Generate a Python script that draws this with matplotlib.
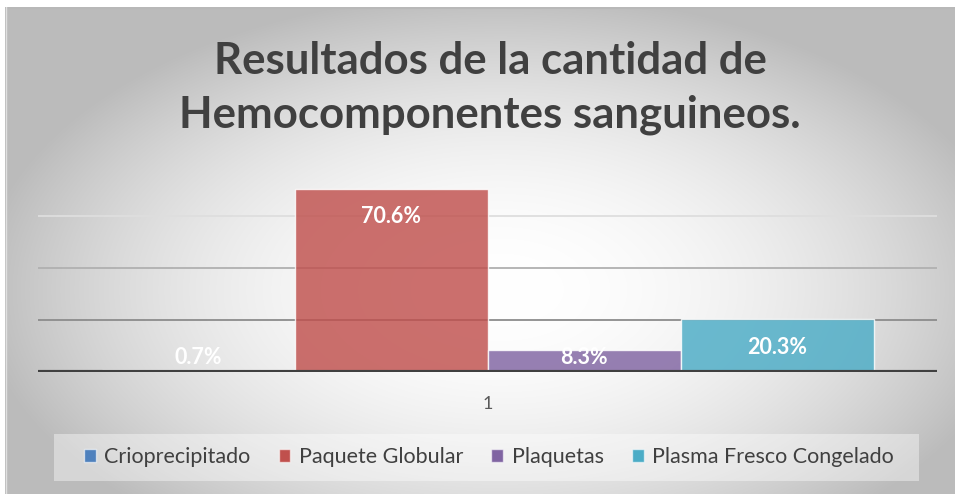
import numpy as np
import matplotlib
matplotlib.use("Agg")
import matplotlib.pyplot as plt
from matplotlib.patches import Rectangle, Patch

categories = ["Crioprecipitado", "Paquete Globular", "Plaquetas", "Plasma Fresco Congelado"]
values = [0.7, 70.6, 8.3, 20.3]
labels = ["0.7%", "70.6%", "8.3%", "20.3%"]
colors = ["#4F81BD", "#C0504D", "#8064A2", "#4BACC6"]
x_labels = ["1"]
grid_values = [20, 40, 60]
grid_colors = ["#8c8c8c", "#b0b0b0", "#dedede"]
title = "Resultados de la cantidad de\nHemocomponentes sanguineos."

W, H = 955, 494
fig = plt.figure(figsize=(W / 100, H / 100), dpi=100)
fig.patch.set_facecolor("white")

# background radial gradient over chart area
bg = fig.add_axes([5 / W, 0, 1 - 5 / W, 1 - 7 / H])
bg.set_axis_off()
ny, nx = 300, 600
yy, xx = np.mgrid[0:ny, 0:nx]
cx, cy = 0.52 * nx, 0.58 * ny
r = np.sqrt(((xx - cx) / (nx / 2)) ** 2 + ((yy - cy) / (ny / 1.8)) ** 2)
r = np.clip(r, 0, 1.1)
v = 1 - 0.22 * r ** 2
img = np.dstack([v, v, v])
bg.imshow(img, aspect="auto", extent=[0, 1, 0, 1], origin="upper", interpolation="bilinear")
bg.set_xlim(0, 1)
bg.set_ylim(0, 1)
bg.plot([0, 1], [0.998, 0.998], color="#b8b8b8", lw=1.5, transform=bg.transAxes)
bg.plot([0.001, 0.001], [0, 1], color="#e0e0e0", lw=1, transform=bg.transAxes)

# main axes
left_px, right_px = 38, 937
base_px = 372
px_per_unit = 51.9 / 20
ymax = 80
top_px = base_px - ymax * px_per_unit
ax = fig.add_axes([left_px / W, 1 - base_px / H, (right_px - left_px) / W, (base_px - top_px) / H])
ax.set_facecolor("none")
ax.set_xlim(-0.5, 0.5)
ax.set_ylim(0, ymax)
for s in ax.spines.values():
    s.set_visible(False)
ax.set_yticks([])

for gv, gc in zip(grid_values, grid_colors):
    ax.axhline(gv, color=gc, lw=1.3, zorder=1)

w = 193 / (right_px - left_px)
for i, (cat, val, lab, col) in enumerate(zip(categories, values, labels, colors)):
    xc = (i - 1.5) * w
    ax.bar(xc, val, width=w, color=col, alpha=0.82, edgecolor=(1, 1, 1, 0.5), linewidth=1, zorder=2)
    ly = max(val - 10.8, 5.4)
    ax.text(xc, ly, lab, ha="center", va="center", color="white", fontsize=15.5,
            fontweight="bold", family="Lato", zorder=4)

ax.axhline(0, color="#404040", lw=3, zorder=3)
ax.set_xticks([0])
ax.set_xticklabels(x_labels, fontsize=13, color="#595959", family="Lato")
ax.tick_params(axis="x", length=0, pad=17)

# title
fig.text(490 / W, 1 - 88 / H, title, ha="center", va="center", fontsize=31.5, fontweight="bold",
         color="#404040", family="Lato", linespacing=1.4)

# legend box
fig.patches.append(Rectangle((54 / W, 1 - 481 / H), (919 - 54) / W, 47 / H,
                             transform=fig.transFigure, facecolor="white", alpha=0.4,
                             edgecolor="none", zorder=1))
handles = [Patch(facecolor=c, edgecolor=(1, 1, 1, 0.6), label=cat) for cat, c in zip(categories, colors)]
leg = fig.legend(handles=handles, loc="center", bbox_to_anchor=(489 / W, 1 - 457 / H), ncol=4,
                 frameon=False, prop={"family": "Lato", "size": 15.5}, handlelength=0.55,
                 handleheight=0.55, handletextpad=0.4, columnspacing=1.3, labelcolor="#404040")

fig.savefig("out.png", dpi=100)
